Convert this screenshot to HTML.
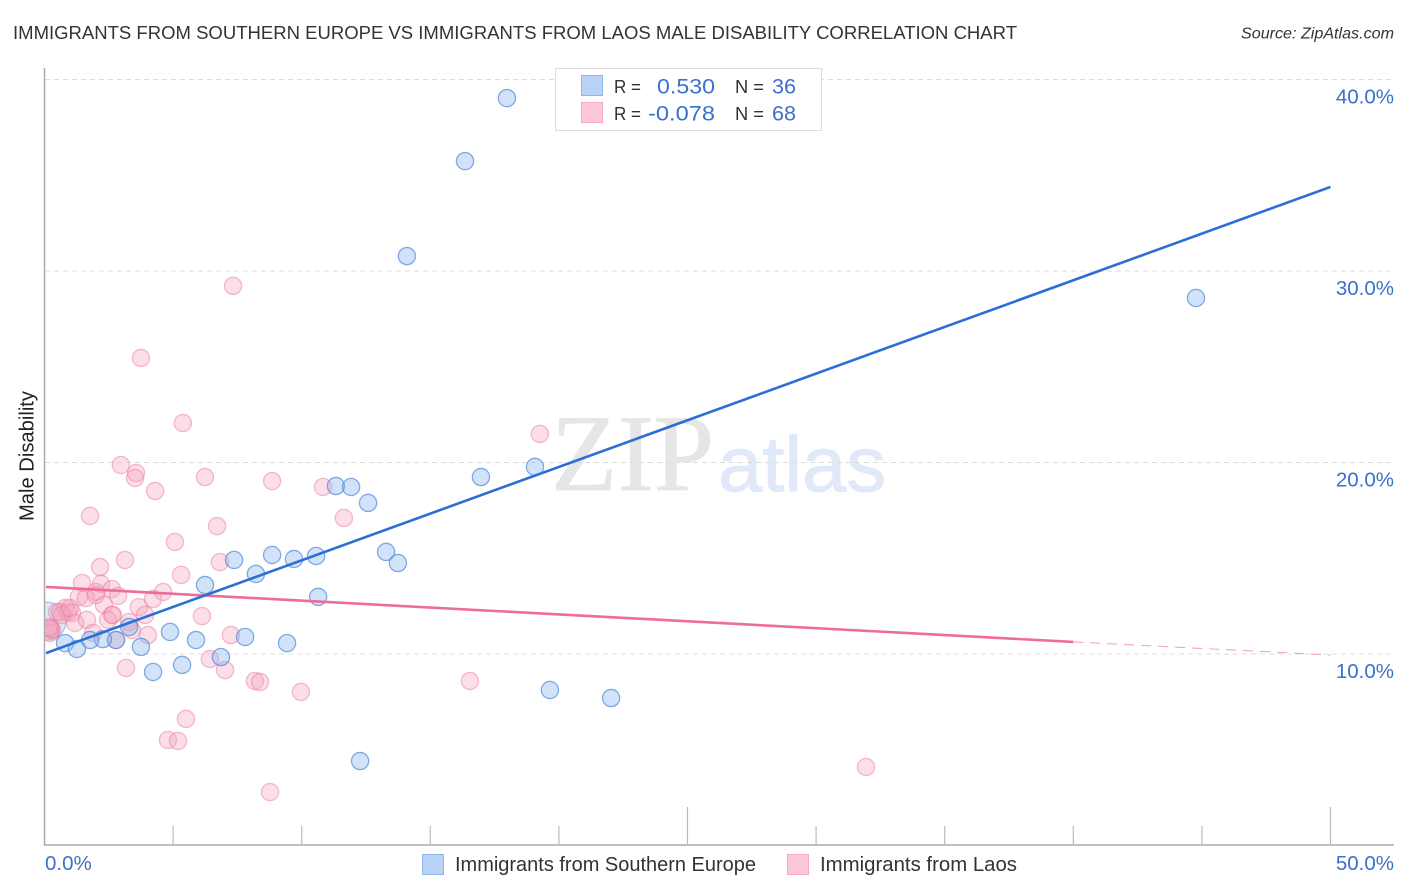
<!DOCTYPE html>
<html lang="en">
<head>
<meta charset="utf-8">
<title>Immigrants from Southern Europe vs Immigrants from Laos Male Disability Correlation Chart</title>
<style>
html,body{margin:0;padding:0;background:#fff;}
svg{display:block;font-family:"Liberation Sans",sans-serif;}
</style>
</head>
<body>
<svg id="chart" width="1406" height="892" viewBox="0 0 1406 892" xmlns="http://www.w3.org/2000/svg">
  <defs>
    <clipPath id="plot-clip"><rect x="45" y="60" width="1349" height="785"/></clipPath>
  </defs>
  <rect width="1406" height="892" fill="#fff"/>
  <text x="13" y="39" font-size="18.6" fill="#333" textLength="1004" lengthAdjust="spacingAndGlyphs">IMMIGRANTS FROM SOUTHERN EUROPE VS IMMIGRANTS FROM LAOS MALE DISABILITY CORRELATION CHART</text>
  <text x="1394" y="38.5" font-size="16" font-style="italic" fill="#333" text-anchor="end" textLength="153" lengthAdjust="spacingAndGlyphs">Source: ZipAtlas.com</text>

  <g>
    <text x="551" y="490" font-family="'Liberation Serif',serif" font-size="109" fill="#e6e6e6" stroke="#e6e6e6" stroke-width="0.8" textLength="163" lengthAdjust="spacingAndGlyphs">ZIP</text>
    <text x="718" y="491" font-size="78" fill="#e0e9f8" stroke="#e0e9f8" stroke-width="1" textLength="168" lengthAdjust="spacingAndGlyphs">atlas</text>
  </g>

  <g id="grid"></g>
  <g id="axes"></g>
  <g id="points" clip-path="url(#plot-clip)"></g>
  <g id="trends"></g>

  <text transform="translate(33.5,456) rotate(-90)" font-size="20" fill="#222" text-anchor="middle" textLength="130" lengthAdjust="spacingAndGlyphs">Male Disability</text>

  <g>
    <rect x="555.5" y="68.5" width="266" height="62" fill="#fff" stroke="#dcdcdc"/>
    <rect x="581.5" y="75.5" width="21" height="20" fill="#b8d3f6" stroke="#8db6ea"/>
    <rect x="581.5" y="102.5" width="21" height="20" fill="#fcc8d9" stroke="#f5a9c2"/>
    <text x="614" y="93" font-size="18.5" fill="#333" textLength="27" lengthAdjust="spacingAndGlyphs">R =</text>
    <text x="657" y="93.5" font-size="21" fill="#3d70cc" textLength="58" lengthAdjust="spacingAndGlyphs">0.530</text>
    <text x="735" y="93" font-size="18.5" fill="#333" textLength="29" lengthAdjust="spacingAndGlyphs">N =</text>
    <text x="772" y="93.5" font-size="21" fill="#3d70cc" textLength="24" lengthAdjust="spacingAndGlyphs">36</text>
    <text x="614" y="120" font-size="18.5" fill="#333" textLength="27" lengthAdjust="spacingAndGlyphs">R =</text>
    <text x="648" y="120.5" font-size="21" fill="#3d70cc" textLength="67" lengthAdjust="spacingAndGlyphs">-0.078</text>
    <text x="735" y="120" font-size="18.5" fill="#333" textLength="29" lengthAdjust="spacingAndGlyphs">N =</text>
    <text x="772" y="120.5" font-size="21" fill="#3d70cc" textLength="24" lengthAdjust="spacingAndGlyphs">68</text>
  </g>

  <g>
    <g>
      <rect x="422.5" y="854.5" width="21" height="20" fill="#b8d3f6" stroke="#8db6ea"/>
      <text x="455" y="871" font-size="20" fill="#333" textLength="301" lengthAdjust="spacingAndGlyphs">Immigrants from Southern Europe</text>
    </g>
    <g>
      <rect x="787.5" y="854.5" width="21" height="20" fill="#fcc8d9" stroke="#f5a9c2"/>
      <text x="820" y="871" font-size="20" fill="#333" textLength="197" lengthAdjust="spacingAndGlyphs">Immigrants from Laos</text>
    </g>
  </g>

<script>
// Chart data (percent units)
const yTickValues = [10, 20, 30, 40];
const yTickLabels = ["10.0%", "20.0%", "30.0%", "40.0%"];
const xTickValues = [5, 10, 15, 20, 25, 30, 35, 40, 45, 50];
const xMajorTicks = [25, 50];
const xEndValues = [0, 50];
const xEndLabels = ["0.0%", "50.0%"];

const blueX = [17.98,16.35,14.09,44.77,19.07,16.97,11.33,11.92,12.58,8.85,9.70,10.56,13.28,13.74,7.37,8.22,6.24,10.64,3.29,4.88,5.89,7.80,9.43,3.75,2.78,2.27,1.77,0.80,1.26,6.86,5.35,4.22,19.65,22.03,12.27,0.10];
const blueY = [39.03,35.74,30.78,28.59,19.77,19.24,18.77,18.72,17.89,15.17,14.96,15.12,15.33,14.75,14.91,14.18,13.60,12.98,11.41,11.15,10.73,10.89,10.57,10.37,10.73,10.78,10.73,10.57,10.26,9.84,9.43,9.06,8.12,7.70,4.41,11.72];
const blueSize = [1,1,1,1,1,1,1,1,1,1,1,1,1,1,1,1,1,1,1,1,1,1,1,1,1,1,1,1,1,1,1,1,1,1,1,2.2];

const pinkX = [7.33,3.75,5.38,19.26,2.97,3.56,3.52,6.24,8.85,10.83,4.30,11.64,1.77,6.71,5.07,3.13,2.16,6.82,5.31,1.46,2.20,2.62,2.00,2.86,1.34,1.61,2.00,2.31,4.61,4.22,3.67,3.91,6.12,0.80,0.49,0.91,0.60,1.07,0.68,0.99,1.19,1.65,2.62,2.47,2.66,3.29,3.40,4.02,1.89,2.78,0.29,0.20,0.21,0.25,0.17,7.25,6.43,7.02,3.17,8.18,8.38,9.97,5.50,4.80,5.19,16.54,31.94,8.77];
const pinkY = [29.22,25.46,22.06,21.49,19.87,19.45,19.19,19.24,19.03,18.72,18.51,17.10,17.21,16.68,15.85,14.91,14.54,14.80,14.13,13.71,13.66,13.39,13.24,13.03,12.98,12.92,13.08,12.56,13.24,12.87,12.45,12.04,11.98,12.40,12.19,12.19,12.19,12.14,12.04,12.40,11.62,11.78,12.04,11.78,12.04,11.67,11.25,10.99,11.10,10.73,11.25,11.40,11.10,11.30,11.36,10.99,9.74,9.16,9.27,8.59,8.54,8.02,6.61,5.51,5.46,8.59,4.10,2.79];

const blueTrendX = [0.06, 50];
const blueTrendY = [10.05, 34.39];
const pinkTrendX = [0.06, 40];
const pinkTrendY = [13.50, 10.63];
const pinkDashX = [40, 50];
const pinkDashY = [10.63, 9.95];

// Axis functions
const scaleX = v => 44.5 + v * 25.72;
const scaleY = v => 654 - (v - 10) * 19.15;
const SVGNS = "http://www.w3.org/2000/svg";
const make = (tag, attrs, parent) => {
  const el = document.createElementNS(SVGNS, tag);
  for (const k in attrs) el.setAttribute(k, attrs[k]);
  parent.appendChild(el);
  return el;
};

const grid = document.getElementById("grid");
const axes = document.getElementById("axes");
const points = document.getElementById("points");
const trends = document.getElementById("trends");

// Gridlines and y tick labels
yTickValues.forEach((v, i) => {
  const line = make("line", {x1: 45, x2: 1394, y1: scaleY(v), y2: scaleY(v), stroke: "#dcdcdc", "stroke-width": 1, "stroke-dasharray": "5 4"}, grid);
  
  
  const label = make("text", {x: 1394, y: scaleY(v) + 24, "font-size": 20.5, fill: "#3d70cc", "text-anchor": "end"}, axes);
  label.textContent = yTickLabels[i];
  
  
});

// Axis lines
const yAxisLine = make("line", {x1: 44.5, x2: 44.5, y1: 68, y2: 845.5, stroke: "#aaa", "stroke-width": 1.5}, axes);


const xAxisLine = make("line", {x1: 44, x2: 1394, y1: 845, y2: 845, stroke: "#aaa", "stroke-width": 1.5}, axes);



// X ticks
xTickValues.forEach(v => {
  const top = xMajorTicks.includes(v) ? 807 : 826;
  const tick = make("line", {x1: scaleX(v), x2: scaleX(v), y1: top, y2: 845, stroke: "#bbb", "stroke-width": 1.2}, axes);
  
  
});

// X end labels
xEndValues.forEach((v, i) => {
  const label = make("text", {x: i === 0 ? scaleX(v) + 0.5 : 1394, y: 870, "font-size": 20.5, fill: "#3d70cc", "text-anchor": i === 0 ? "start" : "end"}, axes);
  label.textContent = xEndLabels[i];
  
  
});

// Scatter marks: oversized blue marks at the back, then pink, then regular blue
const drawBlue = i => {
  const c = make("circle", {cx: scaleX(blueX[i]), cy: scaleY(blueY[i]), r: 8.6 * blueSize[i], fill: "#8ab6ee", "fill-opacity": blueSize[i] > 1 ? 0.3 : 0.38, stroke: "#4f8ad8", "stroke-opacity": blueSize[i] > 1 ? 0.45 : 0.7, "stroke-width": 1.3}, points);
  
  
};
blueX.forEach((x, i) => { if (blueSize[i] > 1) drawBlue(i); });
pinkX.forEach((x, i) => {
  const c = make("circle", {cx: scaleX(x), cy: scaleY(pinkY[i]), r: 8.6, fill: "#f4a3bc", "fill-opacity": 0.36, stroke: "#ec7ba0", "stroke-opacity": 0.5, "stroke-width": 1.3}, points);
  
  
});
blueX.forEach((x, i) => { if (blueSize[i] === 1) drawBlue(i); });

// Trend lines
const pinkTrend = make("line", {x1: scaleX(pinkTrendX[0]), y1: scaleY(pinkTrendY[0]), x2: scaleX(pinkTrendX[1]), y2: scaleY(pinkTrendY[1]), stroke: "#ee6c9a", "stroke-width": 2.6}, trends);


const pinkDash = make("line", {x1: scaleX(pinkDashX[0]), y1: scaleY(pinkDashY[0]), x2: scaleX(pinkDashX[1]), y2: scaleY(pinkDashY[1]), stroke: "#ee8cae", "stroke-width": 1, "stroke-opacity": 0.85, "stroke-dasharray": "10 7"}, trends);


const blueTrend = make("line", {x1: scaleX(blueTrendX[0]), y1: scaleY(blueTrendY[0]), x2: scaleX(blueTrendX[1]), y2: scaleY(blueTrendY[1]), stroke: "#2a6fd6", "stroke-width": 2.6}, trends);


</script>
</svg>
</body>
</html>
